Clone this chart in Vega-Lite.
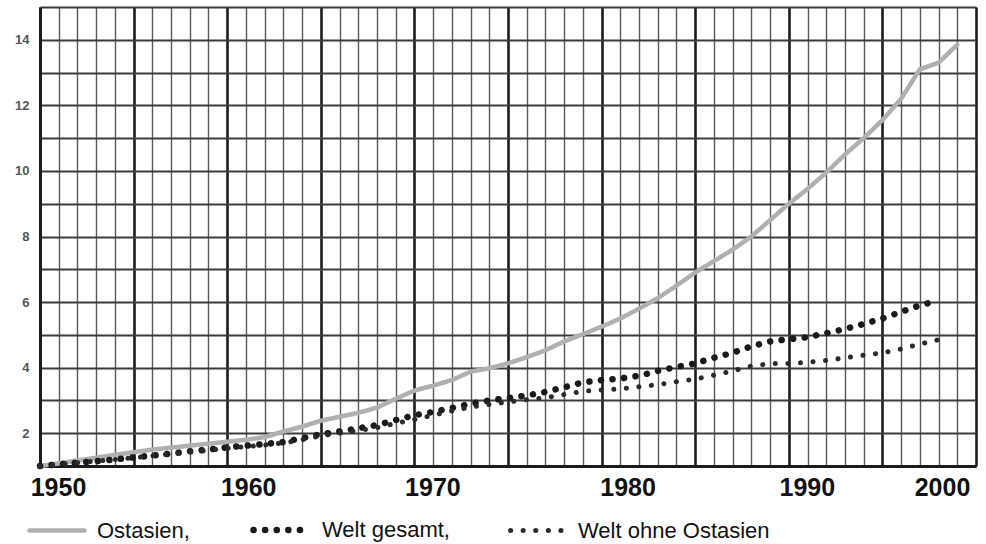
{
  "$schema": "https://vega.github.io/schema/vega-lite/v6.json",
  "width": 936,
  "height": 459,
  "autosize": "none",
  "padding": {"left": 40, "top": 7, "right": 10, "bottom": 78},
  "background": "white",
  "config": {"view": {"stroke": null}, "font": "Liberation Sans"},
  "datasets": {
    "rows": [
      {"year":1950,"series":"Ostasien","value":1.0},{"year":1951,"series":"Ostasien","value":1.08},{"year":1952,"series":"Ostasien","value":1.17},{"year":1953,"series":"Ostasien","value":1.25},{"year":1954,"series":"Ostasien","value":1.34},{"year":1955,"series":"Ostasien","value":1.42},{"year":1956,"series":"Ostasien","value":1.5},{"year":1957,"series":"Ostasien","value":1.56},{"year":1958,"series":"Ostasien","value":1.62},{"year":1959,"series":"Ostasien","value":1.68},{"year":1960,"series":"Ostasien","value":1.74},{"year":1961,"series":"Ostasien","value":1.8},{"year":1962,"series":"Ostasien","value":1.88},{"year":1963,"series":"Ostasien","value":2.05},{"year":1964,"series":"Ostasien","value":2.2},{"year":1965,"series":"Ostasien","value":2.38},{"year":1966,"series":"Ostasien","value":2.5},{"year":1967,"series":"Ostasien","value":2.62},{"year":1968,"series":"Ostasien","value":2.78},{"year":1969,"series":"Ostasien","value":3.05},{"year":1970,"series":"Ostasien","value":3.3},{"year":1971,"series":"Ostasien","value":3.45},{"year":1972,"series":"Ostasien","value":3.62},{"year":1973,"series":"Ostasien","value":3.88},{"year":1974,"series":"Ostasien","value":3.98},{"year":1975,"series":"Ostasien","value":4.13},{"year":1976,"series":"Ostasien","value":4.32},{"year":1977,"series":"Ostasien","value":4.53},{"year":1978,"series":"Ostasien","value":4.8},{"year":1979,"series":"Ostasien","value":5.02},{"year":1980,"series":"Ostasien","value":5.25},{"year":1981,"series":"Ostasien","value":5.5},{"year":1982,"series":"Ostasien","value":5.8},{"year":1983,"series":"Ostasien","value":6.12},{"year":1984,"series":"Ostasien","value":6.5},{"year":1985,"series":"Ostasien","value":6.9},{"year":1986,"series":"Ostasien","value":7.25},{"year":1987,"series":"Ostasien","value":7.6},{"year":1988,"series":"Ostasien","value":8.0},{"year":1989,"series":"Ostasien","value":8.5},{"year":1990,"series":"Ostasien","value":9.0},{"year":1991,"series":"Ostasien","value":9.45},{"year":1992,"series":"Ostasien","value":9.95},{"year":1993,"series":"Ostasien","value":10.5},{"year":1994,"series":"Ostasien","value":11.0},{"year":1995,"series":"Ostasien","value":11.55},{"year":1996,"series":"Ostasien","value":12.2},{"year":1997,"series":"Ostasien","value":13.1},{"year":1998,"series":"Ostasien","value":13.3},{"year":1999,"series":"Ostasien","value":13.85},
      {"year":1950,"series":"Welt gesamt","value":1.0},{"year":1951,"series":"Welt gesamt","value":1.05},{"year":1952,"series":"Welt gesamt","value":1.1},{"year":1953,"series":"Welt gesamt","value":1.15},{"year":1954,"series":"Welt gesamt","value":1.2},{"year":1955,"series":"Welt gesamt","value":1.26},{"year":1956,"series":"Welt gesamt","value":1.32},{"year":1957,"series":"Welt gesamt","value":1.38},{"year":1958,"series":"Welt gesamt","value":1.45},{"year":1959,"series":"Welt gesamt","value":1.5},{"year":1960,"series":"Welt gesamt","value":1.57},{"year":1961,"series":"Welt gesamt","value":1.62},{"year":1962,"series":"Welt gesamt","value":1.67},{"year":1963,"series":"Welt gesamt","value":1.73},{"year":1964,"series":"Welt gesamt","value":1.85},{"year":1965,"series":"Welt gesamt","value":1.97},{"year":1966,"series":"Welt gesamt","value":2.05},{"year":1967,"series":"Welt gesamt","value":2.15},{"year":1968,"series":"Welt gesamt","value":2.25},{"year":1969,"series":"Welt gesamt","value":2.4},{"year":1970,"series":"Welt gesamt","value":2.55},{"year":1971,"series":"Welt gesamt","value":2.65},{"year":1972,"series":"Welt gesamt","value":2.77},{"year":1973,"series":"Welt gesamt","value":2.9},{"year":1974,"series":"Welt gesamt","value":3.0},{"year":1975,"series":"Welt gesamt","value":3.07},{"year":1976,"series":"Welt gesamt","value":3.15},{"year":1977,"series":"Welt gesamt","value":3.26},{"year":1978,"series":"Welt gesamt","value":3.4},{"year":1979,"series":"Welt gesamt","value":3.55},{"year":1980,"series":"Welt gesamt","value":3.62},{"year":1981,"series":"Welt gesamt","value":3.67},{"year":1982,"series":"Welt gesamt","value":3.75},{"year":1983,"series":"Welt gesamt","value":3.9},{"year":1984,"series":"Welt gesamt","value":4.02},{"year":1985,"series":"Welt gesamt","value":4.13},{"year":1986,"series":"Welt gesamt","value":4.3},{"year":1987,"series":"Welt gesamt","value":4.45},{"year":1988,"series":"Welt gesamt","value":4.65},{"year":1989,"series":"Welt gesamt","value":4.8},{"year":1990,"series":"Welt gesamt","value":4.87},{"year":1991,"series":"Welt gesamt","value":4.93},{"year":1992,"series":"Welt gesamt","value":5.05},{"year":1993,"series":"Welt gesamt","value":5.18},{"year":1994,"series":"Welt gesamt","value":5.33},{"year":1995,"series":"Welt gesamt","value":5.5},{"year":1996,"series":"Welt gesamt","value":5.7},{"year":1997,"series":"Welt gesamt","value":5.9},{"year":1998,"series":"Welt gesamt","value":6.05},
      {"year":1950,"series":"Welt ohne Ostasien","value":1.0},{"year":1951,"series":"Welt ohne Ostasien","value":1.05},{"year":1952,"series":"Welt ohne Ostasien","value":1.1},{"year":1953,"series":"Welt ohne Ostasien","value":1.15},{"year":1954,"series":"Welt ohne Ostasien","value":1.2},{"year":1955,"series":"Welt ohne Ostasien","value":1.25},{"year":1956,"series":"Welt ohne Ostasien","value":1.31},{"year":1957,"series":"Welt ohne Ostasien","value":1.37},{"year":1958,"series":"Welt ohne Ostasien","value":1.43},{"year":1959,"series":"Welt ohne Ostasien","value":1.48},{"year":1960,"series":"Welt ohne Ostasien","value":1.54},{"year":1961,"series":"Welt ohne Ostasien","value":1.59},{"year":1962,"series":"Welt ohne Ostasien","value":1.64},{"year":1963,"series":"Welt ohne Ostasien","value":1.7},{"year":1964,"series":"Welt ohne Ostasien","value":1.8},{"year":1965,"series":"Welt ohne Ostasien","value":1.92},{"year":1966,"series":"Welt ohne Ostasien","value":2.0},{"year":1967,"series":"Welt ohne Ostasien","value":2.08},{"year":1968,"series":"Welt ohne Ostasien","value":2.17},{"year":1969,"series":"Welt ohne Ostasien","value":2.3},{"year":1970,"series":"Welt ohne Ostasien","value":2.42},{"year":1971,"series":"Welt ohne Ostasien","value":2.55},{"year":1972,"series":"Welt ohne Ostasien","value":2.68},{"year":1973,"series":"Welt ohne Ostasien","value":2.8},{"year":1974,"series":"Welt ohne Ostasien","value":2.88},{"year":1975,"series":"Welt ohne Ostasien","value":2.95},{"year":1976,"series":"Welt ohne Ostasien","value":3.02},{"year":1977,"series":"Welt ohne Ostasien","value":3.08},{"year":1978,"series":"Welt ohne Ostasien","value":3.18},{"year":1979,"series":"Welt ohne Ostasien","value":3.28},{"year":1980,"series":"Welt ohne Ostasien","value":3.32},{"year":1981,"series":"Welt ohne Ostasien","value":3.35},{"year":1982,"series":"Welt ohne Ostasien","value":3.42},{"year":1983,"series":"Welt ohne Ostasien","value":3.48},{"year":1984,"series":"Welt ohne Ostasien","value":3.57},{"year":1985,"series":"Welt ohne Ostasien","value":3.65},{"year":1986,"series":"Welt ohne Ostasien","value":3.77},{"year":1987,"series":"Welt ohne Ostasien","value":3.9},{"year":1988,"series":"Welt ohne Ostasien","value":4.05},{"year":1989,"series":"Welt ohne Ostasien","value":4.12},{"year":1990,"series":"Welt ohne Ostasien","value":4.13},{"year":1991,"series":"Welt ohne Ostasien","value":4.16},{"year":1992,"series":"Welt ohne Ostasien","value":4.22},{"year":1993,"series":"Welt ohne Ostasien","value":4.3},{"year":1994,"series":"Welt ohne Ostasien","value":4.38},{"year":1995,"series":"Welt ohne Ostasien","value":4.45},{"year":1996,"series":"Welt ohne Ostasien","value":4.57},{"year":1997,"series":"Welt ohne Ostasien","value":4.72},{"year":1998,"series":"Welt ohne Ostasien","value":4.85}
    ]
  },
  "data": {"name": "rows"},
  "mark": {"type": "line", "strokeCap": "round", "strokeJoin": "round"},
  "encoding": {
    "x": {
      "field": "year", "type": "quantitative",
      "scale": {"domain": [1950, 2000], "nice": false, "zero": false},
      "axis": {
        "title": null,
        "values": [1950,1951,1952,1953,1954,1955,1956,1957,1958,1959,1960,1961,1962,1963,1964,1965,1966,1967,1968,1969,1970,1971,1972,1973,1974,1975,1976,1977,1978,1979,1980,1981,1982,1983,1984,1985,1986,1987,1988,1989,1990,1991,1992,1993,1994,1995,1996,1997,1998,1999,2000],
        "format": "d",
        "grid": true,
        "gridColor": {"condition": {"test": "datum.value % 5 === 0", "value": "#1c1c1c"}, "value": "#5a5a5a"},
        "gridWidth": {"condition": {"test": "datum.value % 5 === 0", "value": 2.6}, "value": 1.4},
        "ticks": false,
        "domain": true, "domainColor": "#1c1c1c", "domainWidth": 3,
        "labelExpr": "datum.value % 10 === 0 ? datum.label : ''",
        "labelOffset": {"condition": [{"test": "datum.value == 2000", "value": -34}, {"test": "datum.value == 1980", "value": 26}, {"test": "datum.value == 1960", "value": 21}], "value": 18},
        "labelFont": "Liberation Sans", "labelFontWeight": "bold", "labelFontSize": 25, "labelColor": "#111111",
        "labelPadding": 9, "labelFlush": false, "labelOverlap": false
      }
    },
    "y": {
      "field": "value", "type": "quantitative",
      "scale": {"domain": [1, 15], "nice": false, "zero": false},
      "axis": {
        "title": null,
        "values": [1,2,3,4,5,6,7,8,9,10,11,12,13,14,15],
        "grid": true, "gridColor": "#3c3c3c", "gridWidth": 1.8,
        "ticks": false,
        "domain": true, "domainColor": "#1c1c1c", "domainWidth": 3,
        "labelExpr": "datum.value % 2 === 0 && datum.value < 15 ? datum.label : ''",
        "labelFont": "Liberation Sans", "labelFontWeight": "bold", "labelFontSize": 13, "labelColor": "#555555",
        "labelPadding": 11, "labelOverlap": false
      }
    },
    "color": {
      "field": "series", "type": "nominal",
      "scale": {"type": "ordinal", "domain": ["Ostasien", "Welt gesamt", "Welt ohne Ostasien"], "range": ["#b0b0b0", "#1a1a1a", "#2a2a2a"]},
      "legend": {
        "title": null, "orient": "none", "legendX": -13, "legendY": 492, "direction": "horizontal",
        "symbolType": "stroke", "symbolSize": 3025,
        "labelFont": "Liberation Sans", "labelFontSize": 22, "labelColor": "#111111", "labelOffset": 10,
        "columnPadding": 50, "labelLimit": 400,
        "labelExpr": "datum.label == 'Welt ohne Ostasien' ? datum.label : datum.label + ','",
        "encoding": {"symbols": {"strokeCap": {"value": "round"}}}
      }
    },
    "strokeDash": {
      "field": "series", "type": "nominal",
      "scale": {"type": "ordinal", "domain": ["Ostasien", "Welt gesamt", "Welt ohne Ostasien"], "range": [[1, 0], [0.1, 11.5], [0.1, 12.5]]}
    },
    "strokeWidth": {
      "field": "series", "type": "nominal",
      "scale": {"type": "ordinal", "domain": ["Ostasien", "Welt gesamt", "Welt ohne Ostasien"], "range": [4.5, 6.5, 5]}
    }
  }
}
